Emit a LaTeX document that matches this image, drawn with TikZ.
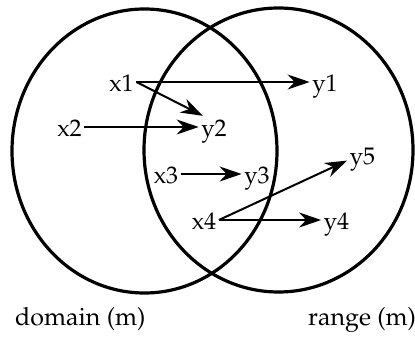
\documentclass[tikz,border=0pt]{standalone}
\usepackage[T1]{fontenc}
\renewcommand{\rmdefault}{ppl}
\usetikzlibrary{arrows.meta}
\begin{document}
\begin{tikzpicture}[x=1pt,y=-1pt,
  setring/.style={line width=3.2pt},
  elem/.style={font=\fontsize{24}{28}\selectfont, inner xsep=2.5pt, inner ysep=1pt, text height=20pt, text depth=0pt},
  lbl/.style={font=\fontsize{25}{29}\selectfont, inner sep=0pt, anchor=base west},
  maparrow/.style={line width=2pt, -{Stealth[length=22pt,width=15pt,inset=7pt]}}]
\useasboundingbox (0,0) rectangle (415,344);
\draw[setring] (144.5,151) ellipse [x radius=132.5, y radius=142];
\draw[setring] (278.5,150) ellipse [x radius=134.5, y radius=142];
\node[elem] (x1) at (121.5,82) {x1};
\node[elem] (y1) at (325,82) {y1};
\node[elem] (x2) at (69.5,127) {x2};
\node[elem] (y2) at (214,127) {y2};
\node[elem] (x3) at (166,174) {x3};
\node[elem] (y3) at (257,174) {y3};
\node[elem] (x4) at (204,220) {x4};
\node[elem] (y4) at (336.5,220) {y4};
\node[elem] (y5) at (362.5,155) {y5};
\draw[maparrow] (x1.east) -- (y1.west);
\draw[maparrow] (x1.east) -- (y2.135);
\draw[maparrow] (x2.east) -- (y2.west);
\draw[maparrow] (x3.east) -- (y3.west);
\draw[maparrow] (x4.east) -- (y5.200);
\draw[maparrow] (x4.east) -- (y4.west);
\node[lbl] (dom) at (15,326) {domain (m)};
\node[lbl] (ran) at (308,326) {range (m)};
\end{tikzpicture}
\end{document}
